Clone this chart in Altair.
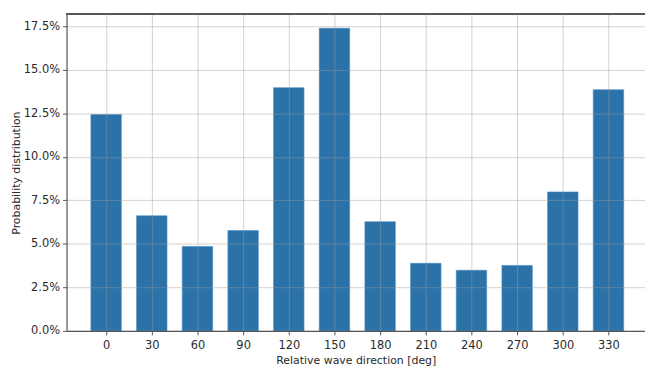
import altair as alt
import pandas as pd

directions = [0, 30, 60, 90, 120, 150, 180, 210, 240, 270, 300, 330]
probability = [0.1243, 0.0661, 0.0485, 0.0576, 0.1397, 0.1738, 0.0627, 0.0388, 0.0348, 0.0376, 0.0798, 0.1385]
y_ticks = [0.0, 0.025, 0.05, 0.075, 0.10, 0.125, 0.15, 0.175]

df = pd.DataFrame({"dir": directions, "p": probability})

W, H = 583, 319
FONT = "DejaVu Sans"

x_scale = alt.Scale(domain=[-26, 354], nice=False, zero=False)
y_scale = alt.Scale(domain=[0, 0.1818], nice=False)

bars = alt.Chart(df).transform_calculate(
    x0="datum.dir - 10", x1="datum.dir + 10"
).mark_bar(color="#2b72a9", stroke="#4a8bc0", strokeWidth=0.6).encode(
    x=alt.X("x0:Q", scale=x_scale,
            axis=alt.Axis(values=directions, title="Relative wave direction [deg]",
                          grid=True, zindex=1, tickSize=4, labelPadding=5,
                          titlePadding=3)),
    x2="x1:Q",
    y=alt.Y("p:Q", scale=y_scale,
            axis=alt.Axis(values=y_ticks, format=".1%", title="Probability distribution",
                          grid=True, zindex=1, tickSize=4, labelPadding=3,
                          titlePadding=2)),
    y2=alt.datum(0),
)

top_border = alt.Chart(df).mark_rule(color="#555555", strokeWidth=1.2).encode(
    x=alt.value(0), x2=alt.value(W), y=alt.value(0)
)

chart = alt.layer(bars, top_border).properties(
    width=W, height=H,
    autosize=alt.AutoSizeParams(type="none"),
    padding={"left": 59, "top": 5, "right": 0, "bottom": 36},
).configure_view(stroke=None).configure_axis(
    labelFont=FONT, titleFont=FONT, labelFontSize=11.5, titleFontSize=11,
    titleFontWeight="normal", labelColor="#2a2a2a", titleColor="#2a2a2a",
    gridColor="#9a9a9a", gridOpacity=0.45, gridWidth=1,
    domainColor="#555555", domainWidth=1.2, tickColor="#555555",
)

chart.save("out.html", embed_options={"renderer": "svg", "actions": False})
